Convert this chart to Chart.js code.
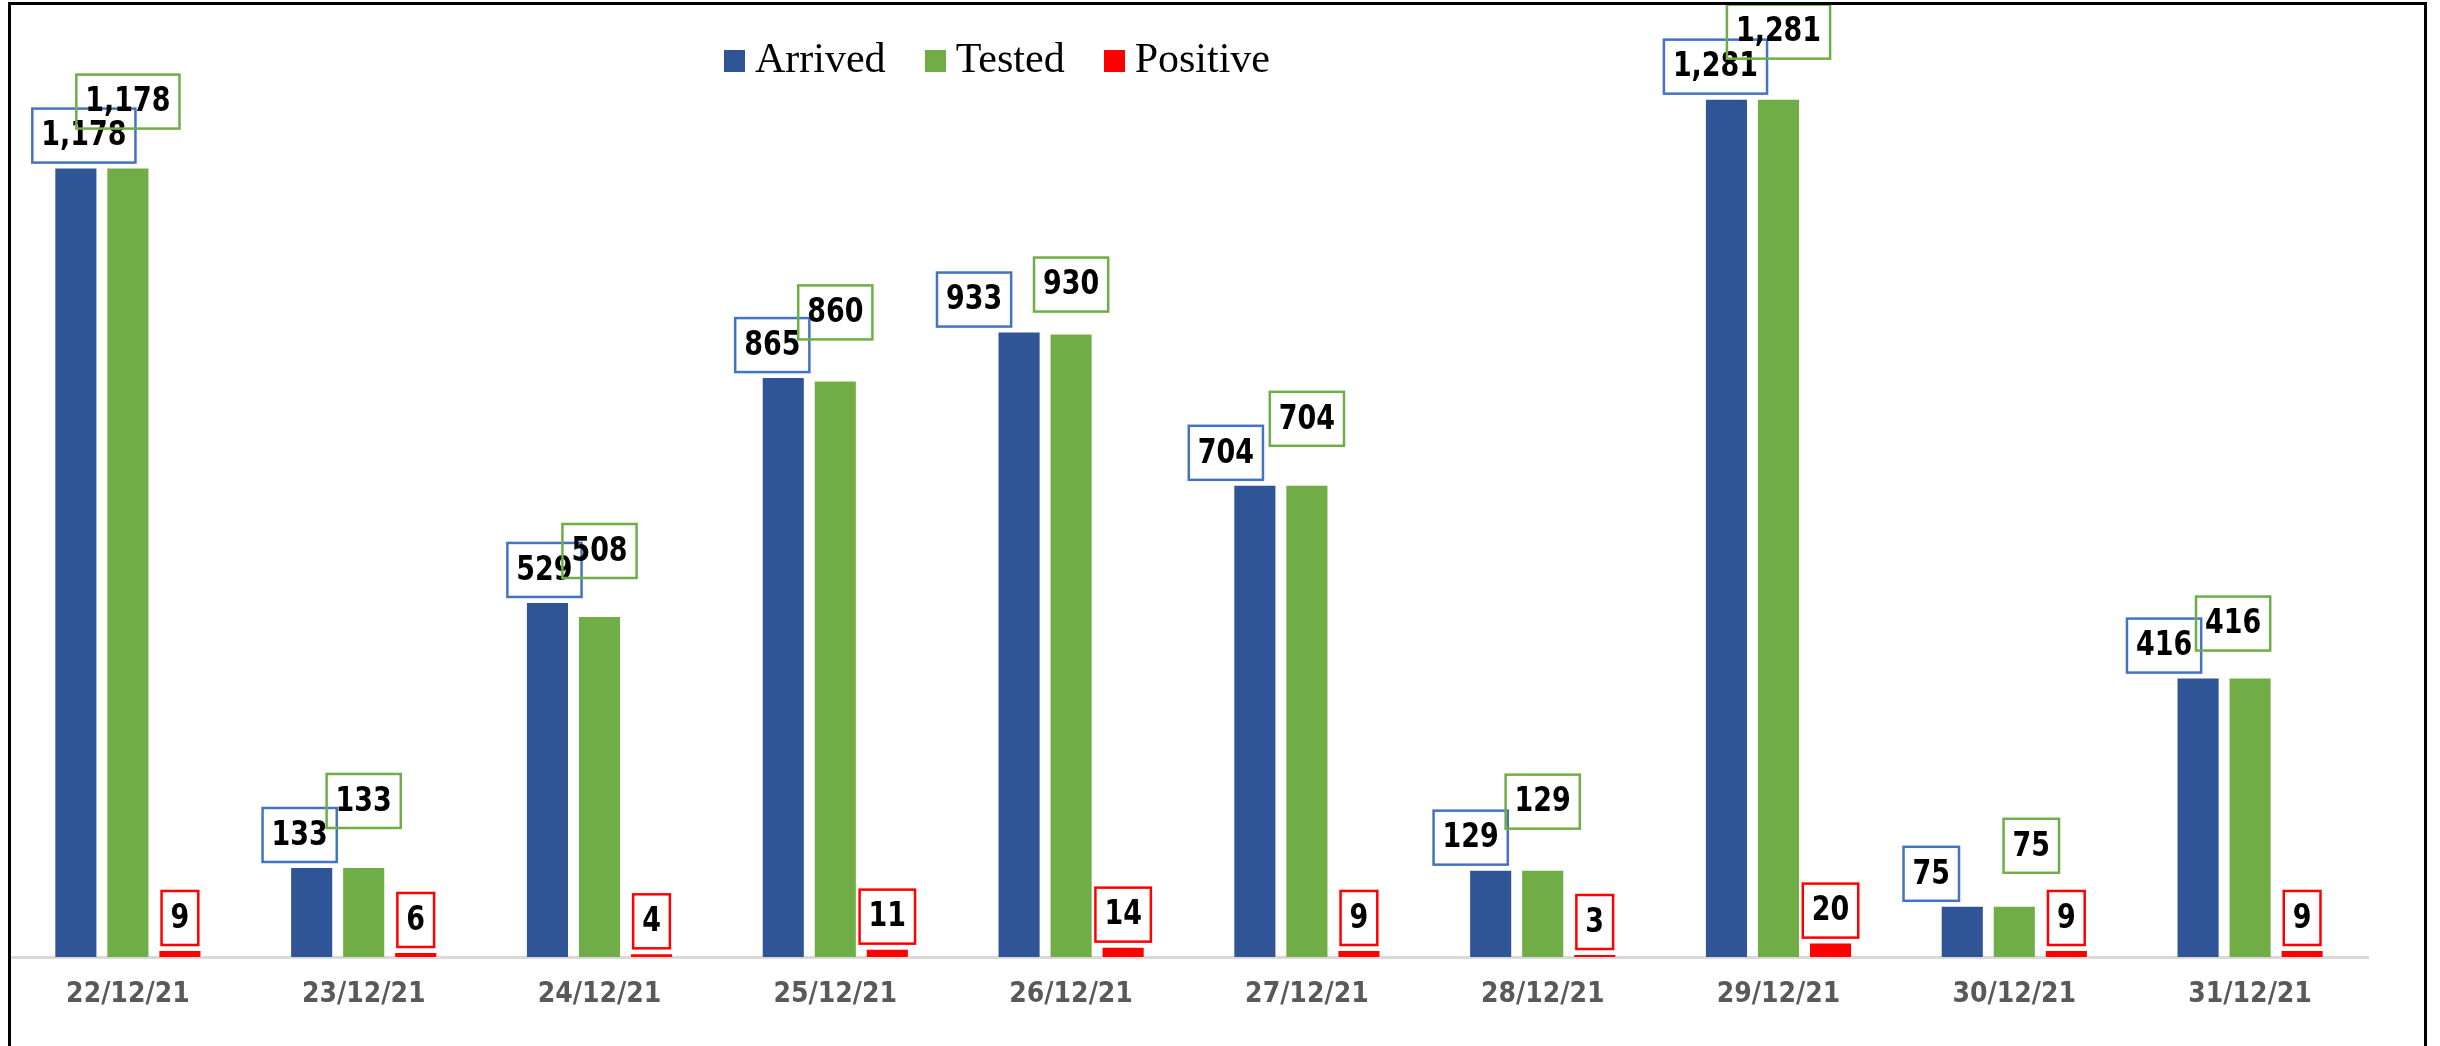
<!DOCTYPE html>
<html>
<head>
<meta charset="utf-8">
<script src="https://cdn.jsdelivr.net/npm/chart.js@4"></script>
<style>
  html, body { margin: 0; padding: 0; background: #fff; overflow: hidden; }
  #wrap { position: relative; width: 2440px; height: 1046px; }
  #frame {
    position: absolute; left: 8px; top: 2px;
    width: 2413px; height: 1100px;
    border: 3px solid #000; box-sizing: content-box; pointer-events: none;
  }
  #legend {
    position: absolute; left: 724px; top: 37px;
    font-family: 'Liberation Serif', 'Times New Roman', serif;
    font-size: 42px; line-height: 42px; color: #000; white-space: nowrap;
  }
  #legend .item { display: inline-block; margin-right: 39px; }
  #legend .box { display: inline-block; width: 21px; height: 22px; margin-right: 10px; vertical-align: baseline; }
</style>
</head>
<body>
<div id="wrap">
  <canvas id="chart" width="2440" height="1046"></canvas>
  <div id="legend"></div>
  <div id="frame"></div>
</div>
<script>
const categories = ['22/12/21', '23/12/21', '24/12/21', '25/12/21', '26/12/21',
  '27/12/21', '28/12/21', '29/12/21', '30/12/21', '31/12/21'];
const arrived = [1178, 133, 529, 865, 933, 704, 129, 1281, 75, 416];
const tested = [1178, 133, 508, 860, 930, 704, 129, 1281, 75, 416];
const positive = [9, 6, 4, 11, 14, 9, 3, 20, 9, 9];

// label nudges, copied by eye from the original Excel layout
const arrivedLabelDx = [8, -12, -3, -11, -45, -29, -20, -11, -31, -34];
const testedLabelDx = [0, 0, 0, 0, 0, 0, 0, 0, 17, -17];
const testedLabelGap = [40, 40, 39, 42, 23, 40, 42, 41, 34, 28];

const COLORS = {
  arrived: '#2F5597',
  tested: '#70AD47',
  positive: '#FF0000',
};
const LABEL_BORDERS = ['#4472C4', '#70AD47', '#FF0000'];
const LABEL_FONT = "bold 34px 'DejaVu Sans Condensed', 'DejaVu Sans', sans-serif";
const SQUEEZE = 0.88; // narrow the glyphs a bit, closer to Calibri

const boxedLabels = {
  id: 'boxedLabels',
  afterDatasetsDraw(chart) {
    const ctx = chart.ctx;
    ctx.save();
    ctx.font = LABEL_FONT;
    ctx.textAlign = 'center';
    ctx.textBaseline = 'middle';
    chart.data.datasets.forEach((ds, i) => {
      const meta = chart.getDatasetMeta(i);
      meta.data.forEach((bar, j) => {
        const text = ds.data[j].toLocaleString('en-US');
        const w = ctx.measureText(text).width * SQUEEZE + 18;
        const h = 54;
        let dx = 0;
        let gap = 6;
        if (i === 0) dx = arrivedLabelDx[j];
        if (i === 1) { dx = testedLabelDx[j]; gap = testedLabelGap[j]; }
        const cx = bar.x + dx;
        const bottom = bar.y - gap;
        ctx.lineWidth = 2.5;
        ctx.strokeStyle = LABEL_BORDERS[i];
        ctx.strokeRect(cx - w / 2, bottom - h, w, h);
        ctx.save();
        ctx.translate(cx, bottom - h / 2 + 1);
        ctx.scale(SQUEEZE, 1);
        ctx.fillStyle = '#000';
        ctx.fillText(text, 0, 0);
        ctx.restore();
      });
    });
    ctx.restore();
  },
};

const chart = new Chart(document.getElementById('chart'), {
  type: 'bar',
  data: {
    labels: categories,
    datasets: [
      { label: 'Arrived', data: arrived, backgroundColor: COLORS.arrived },
      { label: 'Tested', data: tested, backgroundColor: COLORS.tested },
      { label: 'Positive', data: positive, backgroundColor: COLORS.positive },
    ],
  },
  options: {
    responsive: false,
    animation: false,
    devicePixelRatio: 1,
    categoryPercentage: 0.662,
    barPercentage: 0.79,
    layout: {
      padding: { left: 10, right: 72, top: 20, bottom: 0 },
    },
    plugins: {
      legend: { display: false },
      tooltip: { enabled: false },
    },
    scales: {
      x: {
        grid: { display: false, drawTicks: false },
        border: { display: true, color: '#D9D9D9', width: 3 },
        ticks: {
          color: '#595959',
          padding: 21,
          font: { family: "'DejaVu Sans Condensed', 'DejaVu Sans', sans-serif", size: 28, weight: 'bold' },
        },
        afterFit(scale) {
          scale.height = 89;
        },
      },
      y: {
        display: false,
        min: 0,
        max: 1400,
      },
    },
  },
  plugins: [boxedLabels],
});

// legend kept in html so it can sit left of centre like the original
const legendEl = document.getElementById('legend');
chart.data.datasets.forEach((ds) => {
  const item = document.createElement('span');
  item.className = 'item';
  const box = document.createElement('span');
  box.className = 'box';
  box.style.background = ds.backgroundColor;
  item.appendChild(box);
  item.appendChild(document.createTextNode(ds.label));
  legendEl.appendChild(item);
});
</script>
</body>
</html>
